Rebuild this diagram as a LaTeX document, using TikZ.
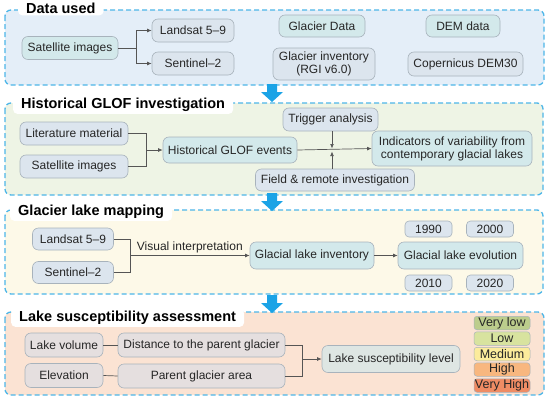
\documentclass[tikz,border=0pt]{standalone}
\usepackage{fontspec}
\setmainfont{Liberation Sans}
\usetikzlibrary{arrows.meta}
\definecolor{dashc}{HTML}{4DB6E8}
\definecolor{bigarr}{HTML}{1BA3E6}
\definecolor{secA}{HTML}{E4EEF8}
\definecolor{secB}{HTML}{EEF4E5}
\definecolor{secC}{HTML}{FDF9E8}
\definecolor{secD}{HTML}{FBE3D3}
\definecolor{tealf}{HTML}{D3E9EB}
\definecolor{bluef}{HTML}{DCE5EE}
\definecolor{grayf}{HTML}{E5DFDF}
\definecolor{lslf}{HTML}{DEE6E3}
\definecolor{bordc}{HTML}{A8B3BC}
\definecolor{connc}{HTML}{555555}
\definecolor{lvA}{HTML}{BCCD8C}
\definecolor{lvB}{HTML}{D8E39F}
\definecolor{lvC}{HTML}{FCEC9C}
\definecolor{lvD}{HTML}{F8B77F}
\definecolor{lvE}{HTML}{EF8C64}
\tikzset{
  section/.style={draw=dashc, line width=1.3pt, dash pattern=on 5pt off 3pt, rounded corners=6pt},
  sectitle/.style={fill=white, rounded corners=4pt, anchor=west, inner xsep=8pt, inner ysep=2pt, font=\bfseries\fontsize{14.5}{16}\selectfont},
  box/.style={draw=bordc, line width=0.6pt, rounded corners=6pt, inner sep=1pt, align=center, font=\fontsize{12}{13}\selectfont, text=black!85},
  lvl/.style={draw=bordc, line width=0.5pt, rounded corners=3pt, inner sep=0pt, minimum width=56, minimum height=13.5, font=\fontsize{12.5}{13}\selectfont, text=black!85},
  conn/.style={draw=connc, line width=0.7pt},
  arr/.style={conn, -{Latex[length=4.5pt,width=3.8pt]}},
  bigarrow/.style={fill=bigarr}
}
\begin{document}
\begin{tikzpicture}[x=1pt,y=-1pt]
\useasboundingbox (0,0) rectangle (550,402);
% sections
\filldraw[section, fill=secA] (5,10) rectangle (544,85);
\filldraw[section, fill=secB] (5,103) rectangle (543,195);
\filldraw[section, fill=secC] (5,210) rectangle (543,294);
\filldraw[section, fill=secD] (5,312) rectangle (544,395);
% big arrows
\foreach \yy in {84,193,295}{
  \fill[bigarr] (267,\yy) -- (277,\yy) -- (277,\yy+8) -- (283,\yy+8) -- (272,\yy+18) -- (261,\yy+8) -- (267,\yy+8) -- cycle;
}
% titles
\node[sectitle] (t1) at (18,8) {Data used};
\node[sectitle] (t2) at (13,105) {Historical GLOF investigation};
\node[sectitle] (t3) at (10,212) {Glacier lake mapping};
\node[sectitle] (t4) at (11,318) {Lake susceptibility assessment};

% ---- Section 1
\node[box, fill=tealf, minimum width=96, minimum height=23] (sat1) at (70,48) {Satellite images};
\node[box, fill=bluef, minimum width=82, minimum height=23] (ls1) at (193,30.5) {Landsat 5–9};
\node[box, fill=bluef, minimum width=82, minimum height=23] (se1) at (193,63.5) {Sentinel–2};
\draw[conn] (sat1.east) -- ++(18,0) coordinate (j1);
\draw[arr] (j1) |- (ls1.west);
\draw[arr] (j1) |- (se1.west);
\node[box, fill=tealf, minimum width=86, minimum height=22] (gd) at (322,26) {Glacier Data};
\node[box, fill=bluef, minimum width=102, minimum height=32] (gi) at (324,64) {Glacier inventory\\(RGI v6.0)};
\node[box, fill=tealf, minimum width=74, minimum height=22] (dem) at (463,26) {DEM data};
\node[box, fill=bluef, minimum width=115, minimum height=24] (cop) at (465.5,64) {Copernicus DEM30};

% ---- Section 2
\node[box, fill=bluef, minimum width=108, minimum height=23] (lit) at (74,133.5) {Literature material};
\node[box, fill=bluef, minimum width=108, minimum height=23] (sat2) at (74,166.5) {Satellite images};
\node[box, fill=tealf, minimum width=134, minimum height=26] (ev) at (230,150) {Historical GLOF events};
\node[box, fill=bluef, minimum width=95, minimum height=23] (trig) at (330.5,119.5) {Trigger analysis};
\node[box, fill=bluef, minimum width=159, minimum height=22] (field) at (335,180) {Field \& remote investigation};
\node[box, fill=tealf, minimum width=160, minimum height=35] (ind) at (452,148.5) {Indicators of variability from\\contemporary glacial lakes};
\coordinate (j2) at (146,150);
\draw[conn] (lit.east) -| (j2);
\draw[conn] (sat2.east) -| (j2);
\draw[arr] (j2) -- (ev.west);
\draw[arr] (ev.east) -- (ind.west);
\coordinate (jn) at (332,150);
\draw[arr] (trig.south -| jn) -- ([yshift=1.5pt]jn);
\draw[arr] (field.north -| jn) -- ([yshift=-1.5pt]jn);

% ---- Section 3
\node[box, fill=bluef, minimum width=81, minimum height=22] (ls3) at (73,239) {Landsat 5–9};
\node[box, fill=bluef, minimum width=81, minimum height=22] (se3) at (73,272.5) {Sentinel–2};
\node[box, fill=tealf, minimum width=124, minimum height=27] (inv) at (312,255.5) {Glacial lake inventory};
\node[box, fill=tealf, minimum width=125, minimum height=27] (evo) at (460.5,255.5) {Glacial lake evolution};
\coordinate (j3) at (130,255.5);
\draw[conn] (ls3.east) -| (j3);
\draw[conn] (se3.east) -| (j3);
\draw[arr] (j3) -- node[above, font=\fontsize{12}{13}\selectfont, text=black!85, inner sep=2pt] (vi) {Visual interpretation} (inv.west);
\draw[arr] (inv.east) -- (evo.west);
\node[box, fill=bluef, rounded corners=4pt, minimum width=47, minimum height=16] (y1) at (428.5,229) {1990};
\node[box, fill=bluef, rounded corners=4pt, minimum width=47, minimum height=16] (y2) at (490,229) {2000};
\node[box, fill=bluef, rounded corners=4pt, minimum width=47, minimum height=16] (y3) at (428.5,283) {2010};
\node[box, fill=bluef, rounded corners=4pt, minimum width=47, minimum height=16] (y4) at (490,283) {2020};

% ---- Section 4
\node[box, fill=grayf, minimum width=78, minimum height=24] (lv) at (64,345) {Lake volume};
\node[box, fill=grayf, minimum width=167, minimum height=24] (dist) at (201.5,345) {Distance to the parent glacier};
\node[box, fill=grayf, minimum width=78, minimum height=24] (elev) at (64,375.5) {Elevation};
\node[box, fill=grayf, minimum width=167, minimum height=24] (area) at (201.5,376) {Parent glacier area};
\node[box, fill=lslf, minimum width=138, minimum height=27] (lsl) at (391,359) {Lake susceptibility level};
\draw[conn] (lv.east) -- (dist.west);
\draw[conn] (elev.east) -- (area.west);
\coordinate (j4) at (302,359);
\draw[conn] (dist.east) -| (j4);
\draw[conn] (area.east) -| (j4);
\draw[arr] (j4) -- (lsl.west);
\node[lvl, fill=lvA] (l1) at (502,323) {Very low};
\node[lvl, fill=lvB] (l2) at (502,338.5) {Low};
\node[lvl, fill=lvC] (l3) at (502,354) {Medium};
\node[lvl, fill=lvD] (l4) at (502,369.5) {High};
\node[lvl, fill=lvE] (l5) at (502,385.5) {Very High};
\end{tikzpicture}
\end{document}
